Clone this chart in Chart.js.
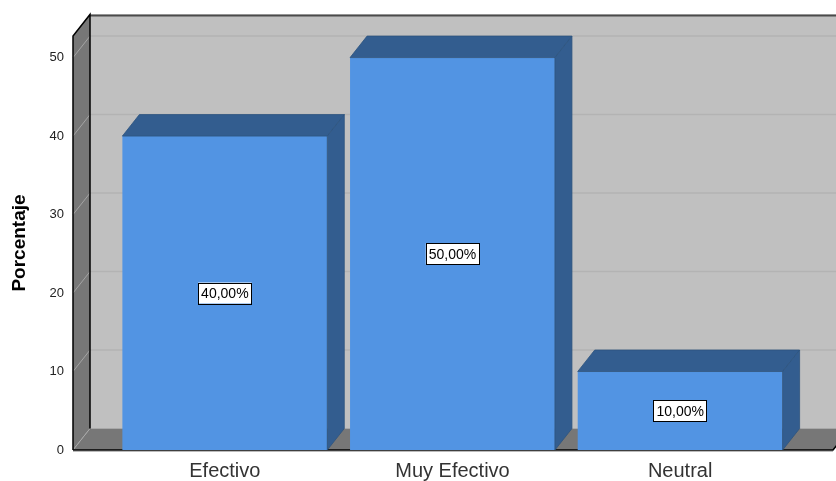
<!DOCTYPE html>
<html>
<head>
<meta charset="utf-8">
<script src="https://cdn.jsdelivr.net/npm/chart.js@4.4.1/dist/chart.umd.min.js"></script>
<style>
  body { margin: 0; background: #fff; }
</style>
</head>
<body>
<canvas id="grafico-efectividad" width="836" height="481"></canvas>
<script>
const categorias = ["Efectivo", "Muy Efectivo", "Neutral"];
const porcentajes = [40, 50, 10];
const marcasEje = [0, 10, 20, 30, 40, 50];

// depth of the 3D box (walls, floor and bars)
const DX = 17;
const DY = 21.5;

const FRENTE = "#5294e3";
const OSCURO = "#335d8f";

const caja3d = {
  id: "caja3d",
  beforeDatasetsDraw(chart) {
    const { ctx, chartArea, scales } = chart;
    const W = chart.width;
    const x0 = chartArea.left - 38;
    const top = chartArea.top;
    const bottom = chartArea.bottom;
    ctx.save();

    // back wall
    ctx.fillStyle = "#c0c0c0";
    ctx.fillRect(x0 + DX, top - DY, W - x0 - DX, bottom - top);

    // left wall
    ctx.fillStyle = "#777777";
    ctx.beginPath();
    ctx.moveTo(x0, top);
    ctx.lineTo(x0 + DX, top - DY);
    ctx.lineTo(x0 + DX, bottom - DY);
    ctx.lineTo(x0, bottom);
    ctx.closePath();
    ctx.fill();

    // floor
    ctx.beginPath();
    ctx.moveTo(x0, bottom);
    ctx.lineTo(x0 + DX, bottom - DY);
    ctx.lineTo(W + DX, bottom - DY);
    ctx.lineTo(W - 3, bottom);
    ctx.closePath();
    ctx.fill();

    // grid lines on both walls
    marcasEje.forEach((v) => {
      if (v === 0) return;
      const yf = scales.y.getPixelForValue(v);
      ctx.strokeStyle = "#b3b3b3";
      ctx.lineWidth = 1.5;
      ctx.beginPath();
      ctx.moveTo(x0 + DX, yf - DY);
      ctx.lineTo(W, yf - DY);
      ctx.stroke();
      ctx.strokeStyle = "#a4a4a4";
      ctx.lineWidth = 1;
      ctx.beginPath();
      ctx.moveTo(x0, yf);
      ctx.lineTo(x0 + DX, yf - DY);
      ctx.stroke();
    });

    // wall / floor seams
    ctx.strokeStyle = "#a8a8a8";
    ctx.lineWidth = 1;
    ctx.beginPath();
    ctx.moveTo(x0 + DX, bottom - DY);
    ctx.lineTo(W, bottom - DY);
    ctx.moveTo(x0, bottom);
    ctx.lineTo(x0 + DX, bottom - DY);
    ctx.stroke();

    // top edge of back wall
    ctx.strokeStyle = "#4a4a4a";
    ctx.lineWidth = 2;
    ctx.beginPath();
    ctx.moveTo(x0 + DX, top - DY + 1);
    ctx.lineTo(W, top - DY + 1);
    ctx.stroke();

    // black outline of the box
    ctx.strokeStyle = "#000";
    ctx.lineWidth = 1.5;
    ctx.beginPath();
    ctx.moveTo(x0, bottom);
    ctx.lineTo(x0, top);
    ctx.lineTo(x0 + DX, top - DY);
    ctx.lineTo(x0 + DX, bottom - DY);
    ctx.moveTo(x0, bottom);
    ctx.lineTo(W - 3, bottom);
    ctx.lineTo(W - 3 + DX, bottom - DY);
    ctx.stroke();
    ctx.strokeStyle = "#bbb";
    ctx.lineWidth = 1;
    ctx.beginPath();
    ctx.moveTo(x0, bottom + 1.5);
    ctx.lineTo(W - 3, bottom + 1.5);
    ctx.stroke();
    ctx.restore();
  },
  afterDatasetsDraw(chart) {
    const { ctx } = chart;
    const meta = chart.getDatasetMeta(0);
    const valores = chart.data.datasets[0].data;
    ctx.save();
    meta.data.forEach((bar, i) => {
      const { x, y, base, width } = bar.getProps(["x", "y", "base", "width"], true);
      const l = x - width / 2;
      const r = x + width / 2;
      ctx.fillStyle = OSCURO;
      ctx.strokeStyle = "#2d547f";
      ctx.lineWidth = 0.8;
      // top face
      ctx.beginPath();
      ctx.moveTo(l, y);
      ctx.lineTo(l + DX, y - DY);
      ctx.lineTo(r + DX, y - DY);
      ctx.lineTo(r, y);
      ctx.closePath();
      ctx.fill();
      ctx.stroke();
      // side face
      ctx.beginPath();
      ctx.moveTo(r, y);
      ctx.lineTo(r + DX, y - DY);
      ctx.lineTo(r + DX, base - DY);
      ctx.lineTo(r, base);
      ctx.closePath();
      ctx.fill();
      ctx.stroke();

      // value label in a white box
      const texto = valores[i].toFixed(2).replace(".", ",") + "%";
      ctx.font = "14px Arial, 'Liberation Sans', sans-serif";
      const tw = ctx.measureText(texto).width;
      const cy = (y + base) / 2;
      const bw = tw + 6;
      const bh = 21;
      ctx.fillStyle = "#fff";
      ctx.fillRect(x - bw / 2, cy - bh / 2, bw, bh);
      ctx.strokeStyle = "#000";
      ctx.lineWidth = 1;
      ctx.strokeRect(Math.round(x - bw / 2) + 0.5, Math.round(cy - bh / 2) + 0.5, Math.round(bw), bh);
      ctx.fillStyle = "#000";
      ctx.textAlign = "center";
      ctx.textBaseline = "middle";
      ctx.fillText(texto, x, cy + 1);
    });
    ctx.restore();
  },
};

new Chart(document.getElementById("grafico-efectividad"), {
  type: "bar",
  plugins: [caja3d],
  data: {
    labels: categorias,
    datasets: [
      {
        data: porcentajes,
        backgroundColor: FRENTE,
        borderWidth: 0,
        barPercentage: 0.9,
        categoryPercentage: 1.0,
      },
    ],
  },
  options: {
    responsive: false,
    animation: false,
    layout: {
      padding: { left: 6, right: 42, top: 36, bottom: 0 },
    },
    plugins: {
      legend: { display: false },
      tooltip: { enabled: false },
    },
    scales: {
      x: {
        grid: { display: false, drawTicks: false },
        border: { display: false },
        ticks: {
          padding: 9,
          color: "#333",
          font: { family: "Arial, 'Liberation Sans', sans-serif", size: 20 },
        },
        afterFit(scale) {
          scale.height = 31;
        },
      },
      y: {
        min: 0,
        max: 52.75,
        grid: { display: false, drawTicks: false },
        border: { display: false },
        ticks: {
          stepSize: 10,
          includeBounds: false,
          padding: 47,
          color: "#222",
          font: { family: "Arial, 'Liberation Sans', sans-serif", size: 13 },
        },
        title: {
          display: true,
          text: "Porcentaje",
          color: "#000",
          padding: { top: 2, bottom: 0 },
          font: { family: "Arial, 'Liberation Sans', sans-serif", size: 19, weight: "bold" },
        },
        afterFit(scale) {
          scale.width = 105;
          // the large tick padding must not push the plot area down
          scale.paddingTop = 0;
          scale.paddingBottom = 0;
        },
      },
    },
  },
});
</script>
</body>
</html>
